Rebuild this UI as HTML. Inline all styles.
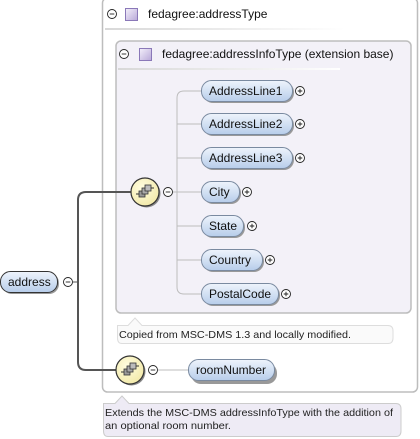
<!DOCTYPE html>
<html><head><style>
html,body{margin:0;padding:0;background:#fff;}
svg{display:block;font-family:"Liberation Sans",sans-serif;}
</style></head><body>
<svg width="420" height="439" viewBox="0 0 420 439" xmlns="http://www.w3.org/2000/svg">
<defs>
<linearGradient id="nb" x1="0" y1="0" x2="0" y2="1">
<stop offset="0" stop-color="#eef4fc"/><stop offset="1" stop-color="#b7cdea"/>
</linearGradient>
<radialGradient id="yb" cx="0.4" cy="0.35" r="0.7">
<stop offset="0" stop-color="#fffde0"/><stop offset="1" stop-color="#f2e9a8"/>
</radialGradient>
<linearGradient id="sq" x1="0" y1="0" x2="1" y2="1">
<stop offset="0" stop-color="#f4f0fb"/><stop offset="1" stop-color="#b8a8d8"/>
</linearGradient>
<linearGradient id="sep" x1="0" y1="0" x2="1" y2="0">
<stop offset="0" stop-color="#d8d8d8"/><stop offset="1" stop-color="#ffffff"/>
</linearGradient>
<g id="plus"><circle r="4.5" fill="#fff" stroke="#222" stroke-width="0.9"/><path d="M-2.3 0H2.3M0 -2.3V2.3" stroke="#222" stroke-width="0.9"/></g>
<g id="minus"><circle r="4.5" fill="#fff" stroke="#222" stroke-width="0.9"/><path d="M-2.3 0H2.3" stroke="#222" stroke-width="0.9"/></g>
<g id="seq">
<circle r="14" fill="url(#yb)" stroke="#333" stroke-width="1.2"/>
<path d="M-9 2H-6M6 -4H9" stroke="#333" stroke-width="1"/>
<rect x="-6" y="-1" width="6" height="6" fill="#999" stroke="#333" stroke-width="0.8"/>
<rect x="-3" y="-4" width="6" height="6" fill="#aaa" stroke="#333" stroke-width="0.8"/>
<rect x="0" y="-7" width="6" height="6" fill="#bbb" stroke="#333" stroke-width="0.8"/>
</g>
</defs>

<rect x="102.5" y="-2" width="315" height="394" rx="5" fill="#fff" stroke="#bdbdbd" stroke-width="1.5"/>
<use href="#minus" x="112" y="14"/>
<rect x="125.5" y="8.5" width="12" height="12" fill="url(#sq)" stroke="#8a78b8"/>
<text x="148" y="18" font-size="12" fill="#111">fedagree:addressType</text>
<rect x="105" y="28" width="240" height="2" fill="url(#sep)"/>

<rect x="116" y="41" width="295" height="272" rx="5" fill="#f3f1f8" stroke="#bdbdbd" stroke-width="1.5"/>
<use href="#minus" x="124" y="54"/>
<rect x="139.5" y="48.5" width="12" height="12" fill="url(#sq)" stroke="#8a78b8"/>
<text x="162" y="58" font-size="12" fill="#111">fedagree:addressInfoType (extension base)</text>
<rect x="118" y="68" width="222" height="2" fill="url(#sep)"/>

<path d="M201 91H184Q177 91 177 98V287Q177 294 184 294H201" fill="none" stroke="#bdbdbd"/>
<g stroke="#bdbdbd"><path d="M177 124H201M177 158H201M177 226H201M177 260H201M172 192H201"/></g>

<g font-size="12" fill="#111">
<g><rect x="201.5" y="80.5" width="91" height="21" rx="10" fill="#999" transform="translate(1.5,1.5)"/><rect x="201.5" y="80.5" width="91" height="21" rx="10" fill="url(#nb)" stroke="#7a8aa0"/><text x="209" y="95">AddressLine1</text><use href="#plus" x="300" y="91"/></g>
<g><rect x="201.5" y="113.5" width="91" height="21" rx="10" fill="#999" transform="translate(1.5,1.5)"/><rect x="201.5" y="113.5" width="91" height="21" rx="10" fill="url(#nb)" stroke="#7a8aa0"/><text x="209" y="128">AddressLine2</text><use href="#plus" x="300" y="124"/></g>
<g><rect x="201.5" y="147.5" width="91" height="21" rx="10" fill="#999" transform="translate(1.5,1.5)"/><rect x="201.5" y="147.5" width="91" height="21" rx="10" fill="url(#nb)" stroke="#7a8aa0"/><text x="209" y="162">AddressLine3</text><use href="#plus" x="300" y="158"/></g>
<g><rect x="201.5" y="181.5" width="38" height="21" rx="10" fill="#999" transform="translate(1.5,1.5)"/><rect x="201.5" y="181.5" width="38" height="21" rx="10" fill="url(#nb)" stroke="#7a8aa0"/><text x="209" y="196">City</text><use href="#plus" x="247" y="192"/></g>
<g><rect x="201.5" y="215.5" width="42" height="21" rx="10" fill="#999" transform="translate(1.5,1.5)"/><rect x="201.5" y="215.5" width="42" height="21" rx="10" fill="url(#nb)" stroke="#7a8aa0"/><text x="209" y="230">State</text><use href="#plus" x="252" y="226"/></g>
<g><rect x="201.5" y="249.5" width="61" height="21" rx="10" fill="#999" transform="translate(1.5,1.5)"/><rect x="201.5" y="249.5" width="61" height="21" rx="10" fill="url(#nb)" stroke="#7a8aa0"/><text x="209" y="264">Country</text><use href="#plus" x="270" y="260"/></g>
<g><rect x="201.5" y="283.5" width="77" height="21" rx="10" fill="#999" transform="translate(1.5,1.5)"/><rect x="201.5" y="283.5" width="77" height="21" rx="10" fill="url(#nb)" stroke="#7a8aa0"/><text x="209" y="298">PostalCode</text><use href="#plus" x="286" y="294"/></g>
</g>

<path d="M117.5 325.5H128L135 318L142 325.5H388Q393 325.5 393 331V338Q393 343.5 388 343.5H122Q117.5 343.5 117.5 338Z" fill="#fafafa" stroke="#ddd"/>
<text x="119" y="338" font-size="10.5" fill="#222" textLength="232" lengthAdjust="spacingAndGlyphs">Copied from MSC-DMS 1.3 and locally modified.</text>

<path d="M131 192H86Q78 192 78 200V362Q78 370 86 370H117" fill="none" stroke="#555" stroke-width="2"/>
<path d="M73 282H78" stroke="#555" stroke-width="1"/>
<path d="M158 370H188" stroke="#bdbdbd"/>

<g transform="translate(1.5,1.5)"><circle cx="145" cy="192" r="14" fill="#888"/><circle cx="130" cy="370" r="14" fill="#888"/></g>
<use href="#seq" x="145" y="192"/>
<use href="#minus" x="168" y="192"/>
<use href="#seq" x="130" y="370"/>
<use href="#minus" x="153" y="370"/>

<rect x="189.5" y="361.5" width="86" height="21" rx="10" fill="#999" transform="translate(1.5,1.5)"/>
<rect x="188.5" y="359.5" width="86" height="21" rx="10" fill="url(#nb)" stroke="#7a8aa0"/>
<text x="196" y="374" font-size="12" fill="#111">roomNumber</text>

<rect x="2" y="273" width="57" height="21" rx="10" fill="#999"/>
<rect x="0.5" y="271.5" width="57" height="21" rx="10" fill="url(#nb)" stroke="#333"/>
<text x="8" y="286" font-size="12" fill="#111">address</text>
<use href="#minus" x="68" y="282"/>

<path d="M103.5 403.5H115L122 396L129 403.5H396Q401 403.5 401 409V431Q401 436.5 396 436.5H108Q103.5 436.5 103.5 431Z" fill="#eeebf5" stroke="#ccc"/>
<text x="105" y="416" font-size="10.5" fill="#222" textLength="288" lengthAdjust="spacingAndGlyphs">Extends the MSC-DMS addressInfoType with the addition of</text>
<text x="105" y="429" font-size="10.5" fill="#222" textLength="126" lengthAdjust="spacingAndGlyphs">an optional room number.</text>
</svg>
</body></html>
